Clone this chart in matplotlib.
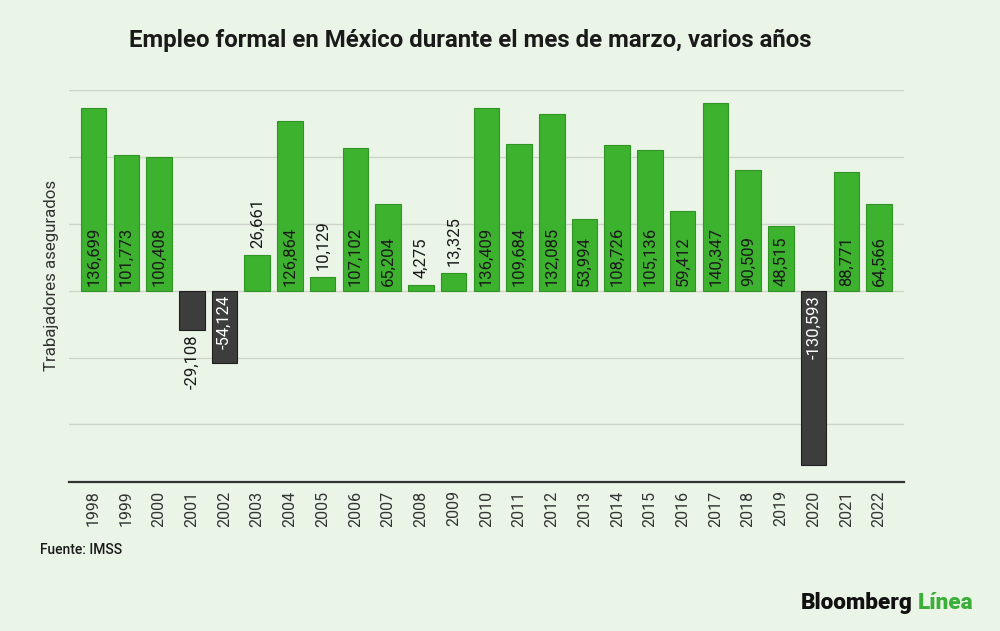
import matplotlib
matplotlib.use("Agg")
import matplotlib.pyplot as plt
from matplotlib.transforms import offset_copy

years = [str(y) for y in range(1998, 2023)]
values = [136699, 101773, 100408, -29108, -54124, 26661, 126864, 10129, 107102, 65204,
          4275, 13325, 136409, 109684, 132085, 53994, 108726, 105136, 59412, 140347,
          90509, 48515, -130593, 88771, 64566]

title = "Empleo formal en México durante el mes de marzo, varios años"
ylabel = "Trabajadores asegurados"
source = "Fuente: IMSS"

BG = "#ebf5e7"
GREEN = "#3db22f"
GREEN_EDGE = "#2f9424"
DARK = "#3d3d3d"
DARK_EDGE = "#1e1e1e"

plt.rcParams['font.family'] = ['Roboto', 'DejaVu Sans']

fig = plt.figure(figsize=(10, 6.31), dpi=100, facecolor=BG)
ax = fig.add_axes([0.069, 0.236, 0.835, 0.621], facecolor=BG)

x = list(range(len(years)))
colors = [GREEN if v >= 0 else DARK for v in values]
edges = [GREEN_EDGE if v >= 0 else DARK_EDGE for v in values]
ax.bar(x, values, width=0.78, color=colors, edgecolor=edges, linewidth=0.8, zorder=3)

ax.set_xlim(-0.75, 24.76)
ax.set_ylim(-143200, 150000)
ax.set_yticks([-100000, -50000, 0, 50000, 100000, 150000])
ax.yaxis.grid(True, color="#cdd5ca", linewidth=1.0, zorder=0)
ax.tick_params(axis='y', length=0, labelleft=False)
ax.set_xticks(x)
ax.set_xticklabels(years, rotation=90, fontsize=11.5, color="#333333")
ax.tick_params(axis='x', length=0, pad=6)
for s in ['top', 'right', 'left']:
    ax.spines[s].set_visible(False)
ax.spines['bottom'].set_color("#333333")
ax.spines['bottom'].set_linewidth(1.6)
ax.spines['bottom'].set_zorder(4)

for xi, v in zip(x, values):
    lab = f"{v:,}"
    if v >= 0:
        if v > 40000:
            tr = offset_copy(ax.transData, fig=fig, x=0, y=5, units='dots')
            ax.text(xi, 0, lab, rotation=90, ha='center', va='bottom', fontsize=12,
                    color="#1a1a1a", transform=tr, zorder=5)
        else:
            tr = offset_copy(ax.transData, fig=fig, x=0, y=7, units='dots')
            ax.text(xi, v, lab, rotation=90, ha='center', va='bottom', fontsize=12,
                    color="#1a1a1a", transform=tr, zorder=5)
    else:
        if v < -40000:
            tr = offset_copy(ax.transData, fig=fig, x=0, y=-4, units='dots')
            ax.text(xi, 0, lab, rotation=90, ha='center', va='top', fontsize=12,
                    color="white", transform=tr, zorder=5)
        else:
            tr = offset_copy(ax.transData, fig=fig, x=0, y=-5, units='dots')
            ax.text(xi, v, lab, rotation=90, ha='center', va='top', fontsize=12,
                    color="#1a1a1a", transform=tr, zorder=5)

fig.text(0.0515, 0.564, ylabel, rotation=90, ha='center', va='center',
         fontsize=12.2, color="#333333")

fig.text(0.47, 0.936, title, ha='center', va='center', fontsize=17.3,
         fontweight='bold', color="#1a1a1a")
fig.text(0.040, 0.128, source, ha='left', va='center', fontsize=10,
         fontweight='medium', color="#1a1a1a")

t1 = fig.text(0.8005, 0.0444, "Bloomberg", ha='left', va='center', fontsize=16.2,
              fontweight='black', color="#111111")
fig.canvas.draw()
bb = t1.get_window_extent()
fig.text(bb.x1 / 1000 + 0.005, 0.0444, "Línea", ha='left', va='center', fontsize=16.2,
         fontweight='black', color="#3cae3a")

fig.savefig("out.png", dpi=100, facecolor=BG)
